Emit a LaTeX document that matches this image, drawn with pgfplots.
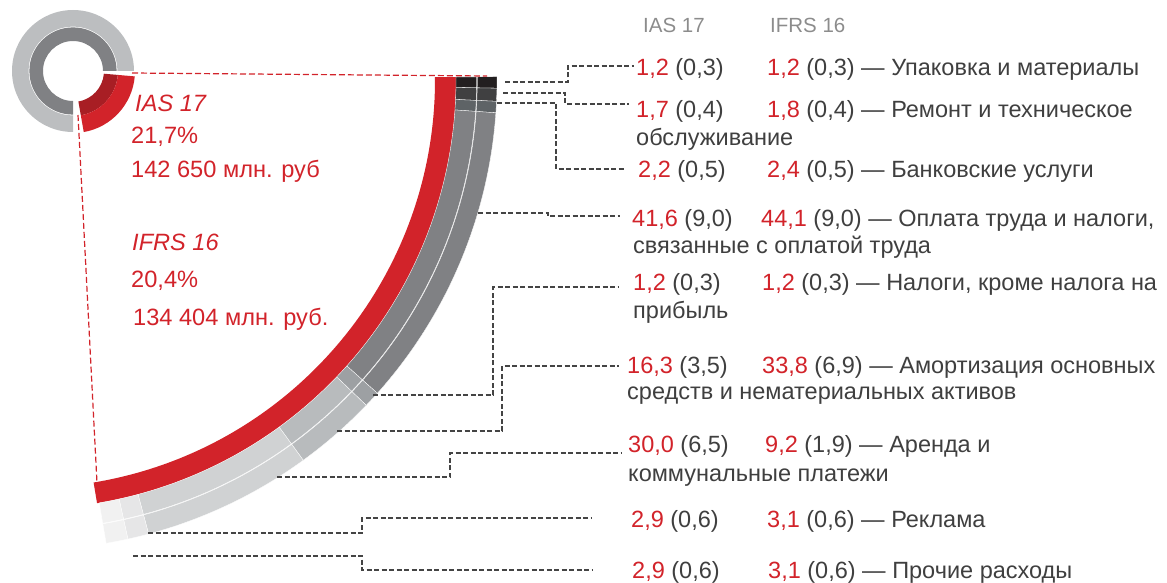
\documentclass[border=0pt]{standalone}
\usepackage{fontspec}
\setmainfont{Liberation Sans}
\usepackage{pgfplots}
\pgfplotsset{compat=1.18}

\definecolor{cred}{HTML}{D2232A}
\definecolor{cdred}{HTML}{A81E24}
\definecolor{ctxt}{HTML}{3F3F3F}
\definecolor{chead}{HTML}{8C8C8C}
\definecolor{clead}{HTML}{444444}
\definecolor{sA}{HTML}{231F20}
\definecolor{sB}{HTML}{404041}
\definecolor{sC}{HTML}{5E6366}
\definecolor{sD}{HTML}{808184}
\definecolor{sE}{HTML}{9DA0A3}
\definecolor{sF}{HTML}{B8BBBD}
\definecolor{sG}{HTML}{D0D2D3}
\definecolor{sH}{HTML}{E6E6E7}
\definecolor{sI}{HTML}{F1F1F1}
\definecolor{dL}{HTML}{BCBEC0}
\definecolor{dD}{HTML}{808184}

% ring segment: cx, cy, r1, r2, a1, a2 (degrees clockwise from east, on screen), style
\newcommand{\seg}[7]{%
  \path[#7] ([shift={({-(#5)}:#4bp)}]axis cs:#1,#2)
    arc[start angle={-(#5)}, end angle={-(#6)}, radius=#4bp]
    -- ([shift={({-(#6)}:#3bp)}]axis cs:#1,#2)
    arc[start angle={-(#6)}, end angle={-(#5)}, radius=#3bp] -- cycle;}

\newcommand{\lab}{\fontsize{23.5bp}{27bp}\selectfont}
\newcommand{\bigf}{\fontsize{23.6bp}{28bp}\selectfont}
\newcommand{\headf}{\fontsize{20.5bp}{24bp}\selectfont}
\newcommand{\txtline}[3]{\node[anchor=base west, inner sep=0pt, text=ctxt, font=\lab] at (axis cs:#1,#2) {#3};}
\newcommand{\numline}[4]{\node[anchor=base west, inner sep=0pt, text=ctxt, font=\lab] at (axis cs:#1,#2) {\textcolor{cred}{#3} #4};}

\pgfplotsset{lead/.style={clead, line width=1.3bp, dash pattern=on 5bp off 2.5bp, no markers},
  rlead/.style={cred, line width=1.2bp, dash pattern=on 6bp off 3bp, no markers}}

\begin{document}
\begin{tikzpicture}
\begin{axis}[width=1167bp, height=583bp, scale only axis,
  xmin=0, xmax=1167, ymin=0, ymax=583, y dir=reverse, hide axis, clip=false]

% ---- small donut (share of revenue)
\seg{73}{71}{30}{43.6}{90}{360}{fill=dD}
\seg{73}{71}{44.4}{61}{90}{360}{fill=dL}
\seg{73}{71}{31}{45}{5}{80}{fill=cdred}
\seg{73}{71}{45}{62}{5}{80}{fill=cred}

% ---- big arc: red band
\seg{27}{80}{408}{429}{-0.4}{80.6}{fill=cred}
% ---- inner gray ring (segments)
\seg{27}{80}{429}{449.7}{-0.4}{1.0}{fill=sA, draw=white, line width=0.3bp}
\seg{27}{80}{429}{449.7}{1.0}{2.6}{fill=sB, draw=white, line width=0.3bp}
\seg{27}{80}{429}{449.7}{2.6}{4.0}{fill=sC, draw=white, line width=0.3bp}
\seg{27}{80}{429}{449.7}{4.0}{41.8}{fill=sD, draw=white, line width=0.3bp}
\seg{27}{80}{429}{449.7}{41.8}{43.8}{fill=sE, draw=white, line width=0.3bp}
\seg{27}{80}{429}{449.7}{43.8}{54.0}{fill=sF, draw=white, line width=0.3bp}
\seg{27}{80}{429}{449.7}{54.0}{75.0}{fill=sG, draw=white, line width=0.3bp}
\seg{27}{80}{429}{449.7}{75.0}{77.6}{fill=sH, draw=white, line width=0.3bp}
\seg{27}{80}{429}{449.7}{77.6}{80.3}{fill=sI, draw=white, line width=0.3bp}
% ---- outer gray ring (segments)
\seg{27}{80}{450.3}{470}{-0.4}{1.0}{fill=sA, draw=white, line width=0.3bp}
\seg{27}{80}{450.3}{470}{1.0}{2.6}{fill=sB, draw=white, line width=0.3bp}
\seg{27}{80}{450.3}{470}{2.6}{4.0}{fill=sC, draw=white, line width=0.3bp}
\seg{27}{80}{450.3}{470}{4.0}{41.8}{fill=sD, draw=white, line width=0.3bp}
\seg{27}{80}{450.3}{470}{41.8}{43.8}{fill=sE, draw=white, line width=0.3bp}
\seg{27}{80}{450.3}{470}{43.8}{54.0}{fill=sF, draw=white, line width=0.3bp}
\seg{27}{80}{450.3}{470}{54.0}{75.0}{fill=sG, draw=white, line width=0.3bp}
\seg{27}{80}{450.3}{470}{75.0}{77.6}{fill=sH, draw=white, line width=0.3bp}
\seg{27}{80}{450.3}{470}{77.6}{80.3}{fill=sI, draw=white, line width=0.3bp}

% ---- red dashed zoom lines
\addplot[rlead] coordinates {(132,73) (487,76)};
\addplot[rlead] coordinates {(78,115) (97,483)};

% ---- leader lines
\addplot[lead] coordinates {(505,82) (568,82) (568,66) (634,66)};
\addplot[lead] coordinates {(503,93) (565,93) (565,104) (629,104)};
\addplot[lead] coordinates {(497,103) (556,103) (556,169) (624,169)};
\addplot[lead] coordinates {(478,213) (548,213) (548,216) (620,216)};
\addplot[lead] coordinates {(373,395) (493,395) (493,287) (618,287)};
\addplot[lead] coordinates {(337,431) (502,431) (502,366) (619,366)};
\addplot[lead] coordinates {(277,477) (450,477) (450,453) (621,453)};
\addplot[lead] coordinates {(148,533) (362,533) (362,518) (592,518)};
\addplot[lead] coordinates {(133,556) (362,556) (362,570) (592,570)};

% ---- left red texts
\node[anchor=base west, inner sep=0pt, text=cred, font=\bigf\itshape] at (axis cs:135,112) {IAS 17};
\node[anchor=base west, inner sep=0pt, text=cred, font=\bigf] at (axis cs:131,143) {21,7\%};
\node[anchor=base west, inner sep=0pt, text=cred, font=\bigf] at (axis cs:131,177) {142 650 млн. руб};
\node[anchor=base west, inner sep=0pt, text=cred, font=\bigf\itshape] at (axis cs:132,250) {IFRS 16};
\node[anchor=base west, inner sep=0pt, text=cred, font=\bigf] at (axis cs:131,287) {20,4\%};
\node[anchor=base west, inner sep=0pt, text=cred, font=\bigf] at (axis cs:133,325) {134 404 млн. руб.};

% ---- headers
\node[anchor=base west, inner sep=0pt, text=chead, font=\headf] at (axis cs:643,33) {IAS 17};
\node[anchor=base west, inner sep=0pt, text=chead, font=\headf] at (axis cs:770,33) {IFRS 16};

% ---- right labels
\numline{636}{76}{1,2}{(0,3)}
\numline{767}{76}{1,2}{(0,3) — Упаковка и материалы}
\numline{636}{118}{1,7}{(0,4)}
\numline{767}{118}{1,8}{(0,4) — Ремонт и техническое}
\txtline{636}{145}{обслуживание}
\numline{638}{177}{2,2}{(0,5)}
\numline{767}{177}{2,4}{(0,5) — Банковские услуги}
\numline{632}{226}{41,6}{(9,0)}
\numline{761}{226}{44,1}{(9,0) — Оплата труда и налоги,}
\txtline{633}{253}{связанные с оплатой труда}
\numline{633}{290}{1,2}{(0,3)}
\numline{762}{290}{1,2}{(0,3) — Налоги, кроме налога на}
\txtline{633}{318}{прибыль}
\numline{627}{373}{16,3}{(3,5)}
\numline{762}{373}{33,8}{(6,9) — Амортизация основных}
\txtline{627}{399}{средств и нематериальных активов}
\numline{628}{452}{30,0}{(6,5)}
\numline{765}{452}{9,2}{(1,9) — Аренда и}
\txtline{628}{481}{коммунальные платежи}
\numline{631}{527}{2,9}{(0,6)}
\numline{767}{527}{3,1}{(0,6) — Реклама}
\numline{632}{578}{2,9}{(0,6)}
\numline{768}{578}{3,1}{(0,6) — Прочие расходы}
\end{axis}
\pgfresetboundingbox
\path[use as bounding box] (current axis.south west) rectangle (current axis.north east);
\end{tikzpicture}
\end{document}
